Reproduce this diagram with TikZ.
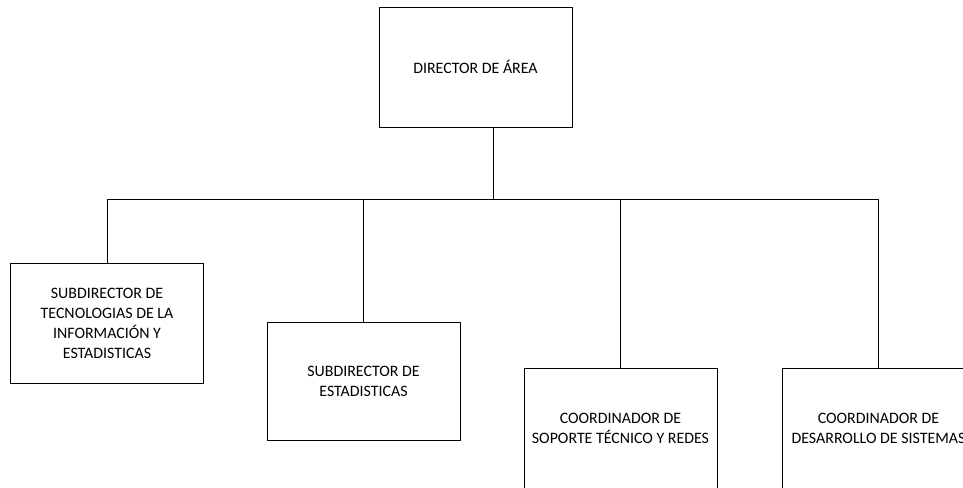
\documentclass[tikz,border=0pt]{standalone}
\usepackage{fontspec}
\setmainfont{Carlito}
\usetikzlibrary{positioning}

\tikzset{
  orgbox/.style={draw, rectangle, line width=0.8pt, minimum width=193pt, minimum height=120pt,
    inner sep=0pt, align=center, font=\fontsize{15.9}{20}\selectfont},
  orgline/.style={line width=0.8pt}
}

\begin{document}
\begin{tikzpicture}[x=1pt,y=-1pt]
\useasboundingbox (0,0) rectangle (963,487);
\node (director)[orgbox] at (475.5,67) {DIRECTOR DE ÁREA};
\node (subtic)[orgbox] at (107,323) {SUBDIRECTOR DE\\TECNOLOGIAS DE LA\\INFORMACIÓN Y\\ESTADISTICAS};
\node (subest)[orgbox, minimum height=118pt] at (363.5,381.7) {SUBDIRECTOR DE\\ESTADISTICAS};
\node (coordsop)[orgbox] at (620.5,428) {COORDINADOR DE\\SOPORTE TÉCNICO Y REDES};
\node (coorddes)[orgbox] at (878.5,428) {COORDINADOR DE\\DESARROLLO DE SISTEMAS};
\coordinate (junction) at (493,199);

\draw [orgline](director.south -| junction)--(junction);
\draw [orgline](junction) -| (subtic);
\draw [orgline](junction) -| (subest);
\draw [orgline](junction) -| (coordsop);
\draw [orgline](junction) -| (coorddes);
\end{tikzpicture}
\end{document}
